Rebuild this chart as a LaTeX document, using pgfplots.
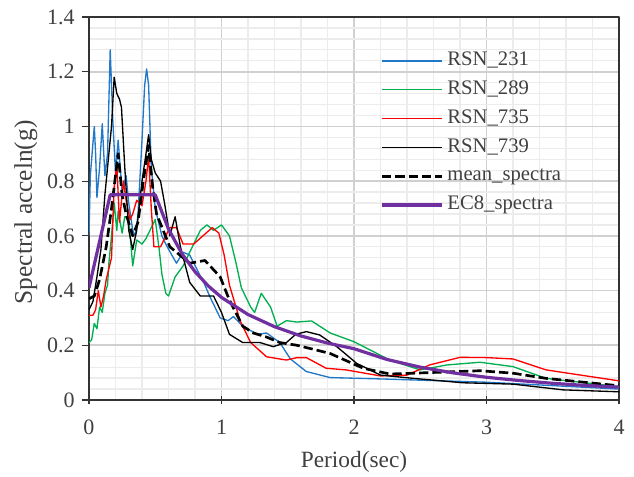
\documentclass[border=0pt]{standalone}
\usepackage{pgfplots}
\pgfplotsset{compat=1.18}
\usepackage{fontspec}
\setmainfont{Liberation Serif}

\definecolor{rsnblue}{RGB}{33,120,200}
\definecolor{rsngreen}{RGB}{0,176,80}
\definecolor{rsnred}{RGB}{255,0,0}
\definecolor{ecpurple}{RGB}{112,48,160}
\definecolor{majgrid}{RGB}{208,208,208}
\definecolor{mingrid}{RGB}{236,236,236}
\definecolor{txt}{RGB}{64,64,64}

\begin{document}
\begin{tikzpicture}
\begin{axis}[
  scale only axis, width=397.5pt, height=287.25pt,
  xmin=0, xmax=4, ymin=0, ymax=1.4,
  xtick={0,1,2,3,4}, ytick={0,0.2,...,1.4},
  minor x tick num=4, minor y tick num=4,
  grid=both,
  major grid style={majgrid, line width=1.3pt},
  minor grid style={mingrid, line width=1pt},
  axis line style={black!80, line width=0.9pt},
  every tick/.style={black!80, line width=0.9pt},
  minor tick length=0pt,
  major tick length=5.25pt,
  xtick align=center, ytick align=outside,
  xtick pos=bottom, ytick pos=left,
  /pgf/number format/assume math mode=true,
  tick label style={font=\fontsize{16.5}{16.5}\selectfont, text=txt},
  xticklabel style={yshift=-9pt},
  yticklabel style={xshift=-2pt},
  xlabel={Period(sec)}, ylabel={Spectral acceln(g)},
  xlabel style={font=\fontsize{17.5}{17.5}\selectfont, text=txt,
    at={(axis description cs:0.5,-0.162)}, anchor=center},
  ylabel style={font=\fontsize{19}{19}\selectfont, text=txt,
    at={(axis description cs:-0.119,0.49)}, anchor=center},
  legend cell align=left,
  legend style={draw=none, fill=none, at={(0.549,0.912)}, anchor=north west,
    inner sep=0pt, font=\fontsize{15.5}{15.5}\selectfont, text=txt, row sep=6.6pt,
    nodes={inner sep=0pt, text height=11pt, text depth=4pt},
    /tikz/every odd column/.append style={column sep=3pt}},
  legend image code/.code={\draw[#1] (0pt,0pt) -- (45pt,0pt);},
  line join=round,
]
\addplot[rsnblue, line width=1pt] coordinates {
(0,0.60) (0.01,0.82) (0.02,0.88) (0.04,1.0) (0.05,0.9) (0.06,0.74) (0.08,0.85)
(0.10,1.01) (0.12,0.82) (0.14,0.9) (0.16,1.28) (0.18,1.02) (0.20,0.83) (0.22,0.95)
(0.25,0.76) (0.28,0.82) (0.30,0.72) (0.33,0.62) (0.35,0.60) (0.37,0.68) (0.40,0.95)
(0.42,1.15) (0.435,1.21) (0.45,1.15) (0.47,0.85) (0.50,0.70) (0.55,0.60) (0.59,0.56)
(0.66,0.50) (0.71,0.54) (0.76,0.53) (0.875,0.42) (0.91,0.38) (0.99,0.30) (1.05,0.29)
(1.09,0.305) (1.16,0.27) (1.27,0.24) (1.34,0.245) (1.44,0.21) (1.52,0.15) (1.64,0.104)
(1.82,0.082) (2.2,0.077) (3.0,0.065) (4,0.04)};
\addlegendentry{RSN\_231}
\addplot[rsngreen, line width=1pt] coordinates {
(0,0.21) (0.02,0.22) (0.04,0.28) (0.06,0.26) (0.08,0.34) (0.10,0.32) (0.12,0.39)
(0.14,0.42) (0.15,0.50) (0.17,0.60) (0.19,0.72) (0.21,0.62) (0.22,0.69) (0.25,0.61)
(0.27,0.67) (0.30,0.66) (0.33,0.49) (0.36,0.585) (0.40,0.57) (0.43,0.59) (0.47,0.63)
(0.50,0.66) (0.53,0.55) (0.55,0.46) (0.58,0.39) (0.60,0.38) (0.65,0.45) (0.71,0.49)
(0.76,0.54) (0.84,0.62) (0.89,0.64) (0.94,0.62) (1.0,0.64) (1.06,0.60) (1.11,0.50)
(1.15,0.41) (1.22,0.34) (1.25,0.32) (1.30,0.39) (1.37,0.34) (1.42,0.27) (1.49,0.29)
(1.57,0.285) (1.68,0.289) (1.82,0.245) (2.0,0.213) (2.27,0.146) (2.5,0.11) (2.7,0.128)
(2.95,0.138) (3.2,0.122) (3.45,0.079) (4,0.049)};
\addlegendentry{RSN\_289}
\addplot[rsnred, line width=1pt] coordinates {
(0,0.31) (0.03,0.31) (0.05,0.33) (0.07,0.40) (0.09,0.34) (0.11,0.38) (0.13,0.44)
(0.15,0.48) (0.17,0.52) (0.19,0.78) (0.21,0.86) (0.23,0.65) (0.26,0.80) (0.28,0.73)
(0.31,0.66) (0.33,0.68) (0.36,0.73) (0.40,0.71) (0.43,0.80) (0.45,0.89) (0.47,0.70)
(0.49,0.56) (0.54,0.56) (0.61,0.63) (0.66,0.63) (0.71,0.57) (0.79,0.57) (0.86,0.60)
(0.93,0.63) (0.98,0.61) (1.02,0.53) (1.06,0.42) (1.14,0.29) (1.22,0.21) (1.34,0.158)
(1.49,0.146) (1.57,0.155) (1.64,0.155) (1.79,0.116) (1.94,0.11) (2.2,0.088) (2.4,0.091)
(2.57,0.128) (2.8,0.156) (3.0,0.155) (3.2,0.15) (3.45,0.11) (4,0.07)};
\addlegendentry{RSN\_735}
\addplot[black, line width=1pt] coordinates {
(0,0.33) (0.03,0.36) (0.06,0.45) (0.09,0.55) (0.12,0.75) (0.15,0.9) (0.17,1.0)
(0.19,1.18) (0.21,1.12) (0.23,1.1) (0.245,1.07) (0.27,0.85) (0.30,0.62) (0.33,0.55)
(0.36,0.62) (0.40,0.8) (0.43,0.9) (0.45,0.97) (0.47,0.88) (0.50,0.83) (0.54,0.80)
(0.57,0.72) (0.61,0.60) (0.65,0.67) (0.69,0.56) (0.76,0.43) (0.84,0.38) (0.94,0.38)
(1.0,0.32) (1.06,0.24) (1.16,0.21) (1.29,0.21) (1.39,0.195) (1.49,0.21) (1.56,0.24)
(1.64,0.25) (1.74,0.238) (1.87,0.195) (2.02,0.134) (2.2,0.091) (2.45,0.079)
(2.82,0.063) (3.2,0.058) (3.58,0.037) (4,0.03)};
\addlegendentry{RSN\_739}
\addplot[black, line width=2pt, dash pattern=on 7pt off 3pt] coordinates {
(0,0.37) (0.04,0.38) (0.08,0.44) (0.13,0.56) (0.17,0.70) (0.20,0.82) (0.22,0.90)
(0.25,0.75) (0.28,0.68) (0.33,0.60) (0.37,0.65) (0.41,0.80) (0.45,0.93) (0.48,0.78)
(0.51,0.68) (0.56,0.62) (0.61,0.56) (0.76,0.50) (0.875,0.51) (0.99,0.45) (1.06,0.365)
(1.16,0.27) (1.24,0.245) (1.34,0.23) (1.44,0.21) (1.57,0.20) (1.82,0.17) (2.07,0.116)
(2.27,0.095) (2.45,0.098) (2.95,0.107) (3.2,0.098) (3.45,0.079) (4,0.052)};
\addlegendentry{mean\_spectra}
\addplot[ecpurple, line width=2.4pt] coordinates {
(0,0.41) (0.16,0.75) (0.5,0.75) (0.6,0.625) (0.7,0.536) (0.8,0.469) (0.9,0.417)
(1.0,0.375) (1.2,0.3125) (1.4,0.268) (1.6,0.234) (1.8,0.208) (2.0,0.1875) (2.25,0.148)
(2.5,0.12) (2.75,0.099) (3.0,0.083) (3.25,0.071) (3.5,0.061) (3.75,0.053) (4,0.047)};
\addlegendentry{EC8\_spectra}
\end{axis}
\pgfresetboundingbox
\path (current axis.south west) ++(-66.75pt,-57.75pt) rectangle ++(475.5pt,357.75pt);
\end{tikzpicture}
\end{document}
